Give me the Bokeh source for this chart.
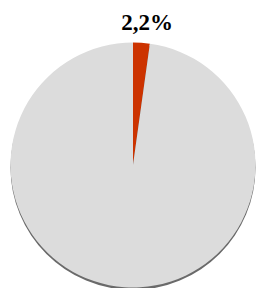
import math
from bokeh.plotting import figure
from bokeh.embed import file_html
from bokeh.resources import INLINE
from bokeh.models import ColumnDataSource
from bokeh.core.properties import value

# Data
categories = ["Share", "Rest"]
values = [2.2, 97.8]
colors = ["#CC3300", "#DCDCDC"]
label_text = "2,2%"

W, H = 257, 288
p = figure(width=W, height=H, output_backend="svg", toolbar_location=None,
           x_range=(0, W), y_range=(0, H), min_border=0)
p.axis.visible = False
p.grid.visible = False
p.outline_line_color = None
p.background_fill_color = "white"
p.border_fill_color = "white"

cx, cy, r = 132.5, H - 164.5, 122.5

total = sum(values)
starts, ends = [], []
acc = 0.0
for v in values:
    a0 = math.pi / 2 - 2 * math.pi * acc / total
    acc += v
    a1 = math.pi / 2 - 2 * math.pi * acc / total
    starts.append(a1)
    ends.append(a0)

src = ColumnDataSource(dict(cat=categories, val=values, start=starts, end=ends, color=colors,
                            x=[cx] * len(values), y=[cy] * len(values)))

p.circle(x=[cx], y=[cy - 2.5], radius=r, fill_color="#6a6a6a", line_color=None)
p.wedge(x="x", y="y", radius=r, start_angle="start", end_angle="end",
        fill_color="color", line_color=None, source=src)

p.text(x=[146.5], y=[H - 22.3], text=[label_text], text_font=value("Liberation Serif"),
       text_font_style="bold", text_font_size="23px", text_align="center",
       text_baseline="alphabetic", text_color="black")

open("out.html", "w").write(file_html(p, INLINE))
